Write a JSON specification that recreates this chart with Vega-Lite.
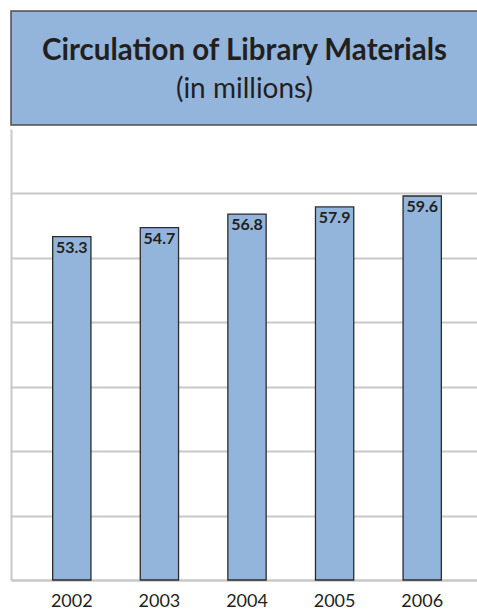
{
  "$schema": "https://vega.github.io/schema/vega-lite/v6.json",
  "padding": {"left": 10, "top": 10, "right": 0, "bottom": 0},
  "background": "white",
  "spacing": 3,
  "config": {"font": "Lato", "view": {"stroke": null}},
  "vconcat": [
    {
      "width": 467,
      "height": 114,
      "view": {"fill": "#93b5dc", "stroke": "#4d4d4d", "strokeWidth": 1.5},
      "title": {
        "text": "Circulation of Library Materials",
        "subtitle": "(in millions)",
        "anchor": "middle",
        "offset": -94,
        "fontSize": 29.5,
        "fontWeight": "bold",
        "color": "#231f20",
        "subtitleFontSize": 28,
        "subtitleColor": "#231f20",
        "subtitlePadding": 10
      },
      "data": {"values": [{"note": ""}]},
      "mark": {"type": "point", "opacity": 0}
    },
    {
      "width": 467,
      "height": 451,
      "data": {
        "values": [
          {"year": "2002", "value": 53.3},
          {"year": "2003", "value": 54.7},
          {"year": "2004", "value": 56.8},
          {"year": "2005", "value": 57.9},
          {"year": "2006", "value": 59.6}
        ]
      },
      "encoding": {
        "x": {
          "field": "year",
          "type": "ordinal",
          "scale": {"paddingInner": 0.563, "paddingOuter": 0.447, "align": 0.532},
          "axis": {
            "title": null,
            "labelAngle": 0,
            "labelFontSize": 18,
            "labelColor": "#231f20",
            "ticks": false,
            "tickSize": 0,
            "labelPadding": 12,
            "domainColor": "#c8c8c8",
            "domainWidth": 2,
            "grid": false
          }
        },
        "y": {
          "field": "value",
          "type": "quantitative",
          "scale": {"domain": [0, 70]},
          "axis": {
            "title": null,
            "labels": false,
            "ticks": false,
            "values": [0, 10, 20, 30, 40, 50, 60],
            "grid": true,
            "gridColor": "#c8c8c8",
            "gridWidth": 2,
            "domainColor": "#c8c8c8",
            "domainWidth": 2
          }
        }
      },
      "layer": [
        {"mark": {"type": "bar", "fill": "#93b5dc", "stroke": "#2b2b2b", "strokeWidth": 1.3}},
        {
          "mark": {"type": "text", "baseline": "alphabetic", "dy": 16, "fontSize": 16, "fontWeight": "bold", "color": "#231f20"},
          "encoding": {"text": {"field": "value", "type": "quantitative", "format": ".1f"}}
        }
      ]
    }
  ]
}
